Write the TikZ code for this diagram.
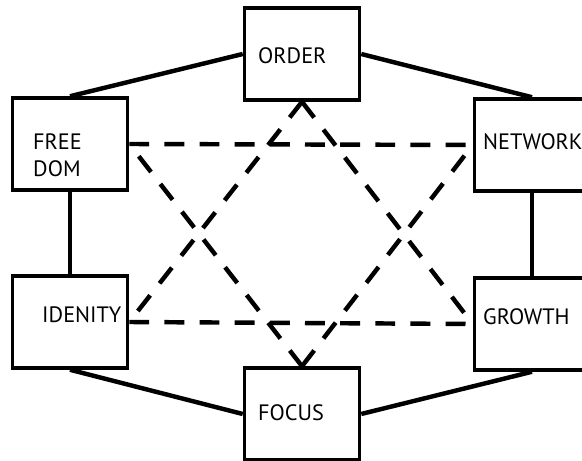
\documentclass[tikz,border=0pt]{standalone}
\usepackage{fontspec}
\setmainfont{PT Sans}
\usepackage{tikz}
\usetikzlibrary{calc}

\begin{document}
\begin{tikzpicture}[x=0.03cm, y=-0.03cm,
  box/.style={draw, line width=3pt, minimum width=3.45cm, minimum height=2.76cm, inner sep=0pt},
  lbl/.style={anchor=west, inner sep=0pt, align=left, font=\fontsize{19}{23}\selectfont},
  link/.style={line width=3.8pt},
  dashlink/.style={line width=3.8pt, dash pattern=on 17pt off 13pt}]
\useasboundingbox (0,0) rectangle (582,461);
\clip (0,0) rectangle (582,461);
% boxes
\node[box] (order)   at (302,54)  {};
\node[box] (freedom) at (70,144)  {};
\node[box] (network) at (532,145) {};
\node[box] (idenity) at (70,322)  {};
\node[box] (growth)  at (532,324) {};
\node[box] (focus)   at (302,414) {};
% texts
\node[lbl] (ordertxt)   at (258,56)  {ORDER};
\node[lbl] (freedomtxt) at (33,155)  {FREE\\DOM};
\node[lbl] (networktxt) at (483,142) {NETWORK};
\node[lbl] (idenitytxt) at (42,315)  {IDENITY};
\node[lbl] (growthtxt)  at (483,317) {GROWTH};
\node[lbl] (focustxt)   at (258,413) {FOCUS};
% ring
\draw[link] (freedom.north) -- (order.west);
\draw[link] (order.east) -- (network.north);
\draw[link, line width=3pt] (freedom.south) -- (idenity.north);
\draw[link, line width=3pt] (network.south) -- (growth.north);
\draw[link] (idenity.south) -- (focus.west);
\draw[link] (growth.south) -- (focus.east);
% star
\draw[dashlink] (order.south) -- (idenity.east);
\draw[dashlink] (order.south) -- (growth.west);
\draw[dashlink] (idenity.east) -- (growth.west);
\draw[dashlink] (focus.north) -- (freedom.east);
\draw[dashlink] (focus.north) -- (network.west);
\draw[dashlink] (freedom.east) -- (network.west);
\end{tikzpicture}
\end{document}
